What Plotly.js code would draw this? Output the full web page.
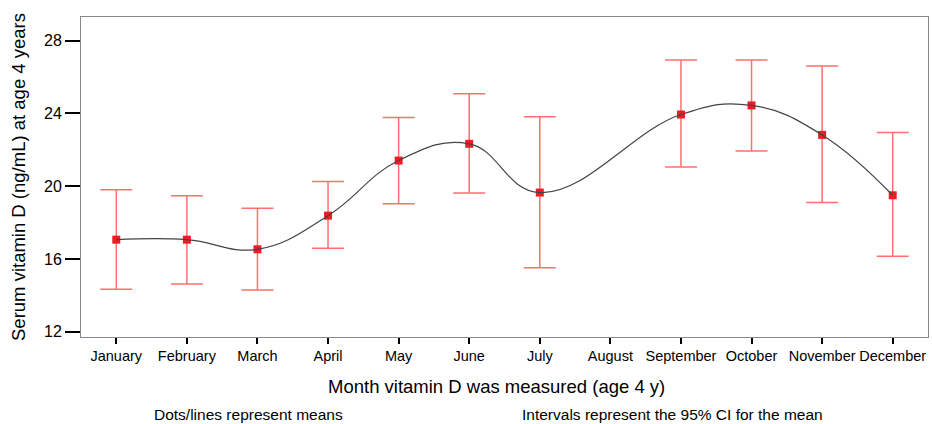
<!DOCTYPE html>
<html>
<head>
<meta charset="utf-8">
<script src="https://cdn.plot.ly/plotly-3.0.1.min.js"></script>
<style>html,body{margin:0;padding:0;background:#fff;}#chart{width:932px;height:424px;}</style>
</head>
<body>
<div id="chart"></div>
<script>
// Data
const allMonths = ["January","February","March","April","May","June","July","August","September","October","November","December"];
const months = ["January","February","March","April","May","June","July","September","October","November","December"];
const means  = [17.06, 17.06, 16.53, 18.38, 21.41, 22.33, 19.65, 23.94, 24.44, 22.82, 19.50];
const upper  = [19.81, 19.47, 18.79, 20.26, 23.78, 25.08, 23.82, 26.94, 26.94, 26.60, 22.95];
const lower  = [14.33, 14.62, 14.29, 16.59, 19.04, 19.63, 15.52, 21.05, 21.94, 19.10, 16.15];
const yTicks = [12, 16, 20, 24, 28];

const font = "Liberation Sans, Arial, Helvetica, sans-serif";

const points = {
  type: "scatter", mode: "markers", x: months, y: means,
  marker: {symbol: "square", size: 8, color: "#ee1c24"},
  error_y: {
    type: "data", symmetric: false,
    array: upper.map((u, i) => u - means[i]),
    arrayminus: lower.map((l, i) => means[i] - l),
    color: "#ff7070", thickness: 1.5, width: 16
  },
  showlegend: false, hoverinfo: "skip"
};
const line = {
  type: "scatter", mode: "lines", x: months, y: means,
  line: {shape: "spline", smoothing: 1.2, color: "#444444", width: 1.2},
  showlegend: false, hoverinfo: "skip"
};

const layout = {
  width: 932, height: 424,
  margin: {l: 81, r: 4, t: 17, b: 87},
  paper_bgcolor: "#fff", plot_bgcolor: "#fff",
  font: {family: font, color: "#000"},
  xaxis: {
    type: "category", categoryorder: "array", categoryarray: allMonths,
    range: [-0.5, 11.5], showgrid: false, zeroline: false,
    showline: true, mirror: true, linecolor: "#888", linewidth: 1,
    ticks: "outside", ticklen: 6, tickwidth: 2, tickcolor: "#000",
    tickfont: {size: 14.5, family: font, color: "#000"}
  },
  yaxis: {
    range: [11.71, 29.3], tickvals: yTicks, ticktext: yTicks.map(String),
    showgrid: false, zeroline: false,
    showline: true, mirror: true, linecolor: "#888", linewidth: 1,
    ticks: "outside", ticklen: 15, tickwidth: 2, tickcolor: "#000",
    tickfont: {size: 16, family: font, color: "#000"}
  },
  annotations: [
    {text: "Month vitamin D was measured (age 4 y)", xref: "paper", yref: "paper",
     x: (496 - 81) / 847, y: (337 - 386) / 320, xanchor: "center", yanchor: "middle", showarrow: false,
     font: {size: 18.5, family: font, color: "#000"}},
    {text: "Serum vitamin D (ng/mL) at age 4 years", xref: "paper", yref: "paper",
     x: (18 - 81) / 847, y: 0.5, xanchor: "center", yanchor: "middle", textangle: -90, showarrow: false,
     font: {size: 18.5, family: font, color: "#000"}},
    {text: "Dots/lines represent means", xref: "paper", yref: "paper",
     x: (248 - 81) / 847, y: (337 - 414) / 320, xanchor: "center", yanchor: "middle", showarrow: false,
     font: {size: 15.5, family: font, color: "#000"}},
    {text: "Intervals represent the 95% CI for the mean", xref: "paper", yref: "paper",
     x: (672 - 81) / 847, y: (337 - 414) / 320, xanchor: "center", yanchor: "middle", showarrow: false,
     font: {size: 15.5, family: font, color: "#000"}}
  ]
};

Plotly.newPlot("chart", [points, line], layout, {staticPlot: true, displayModeBar: false});
</script>
</body>
</html>
